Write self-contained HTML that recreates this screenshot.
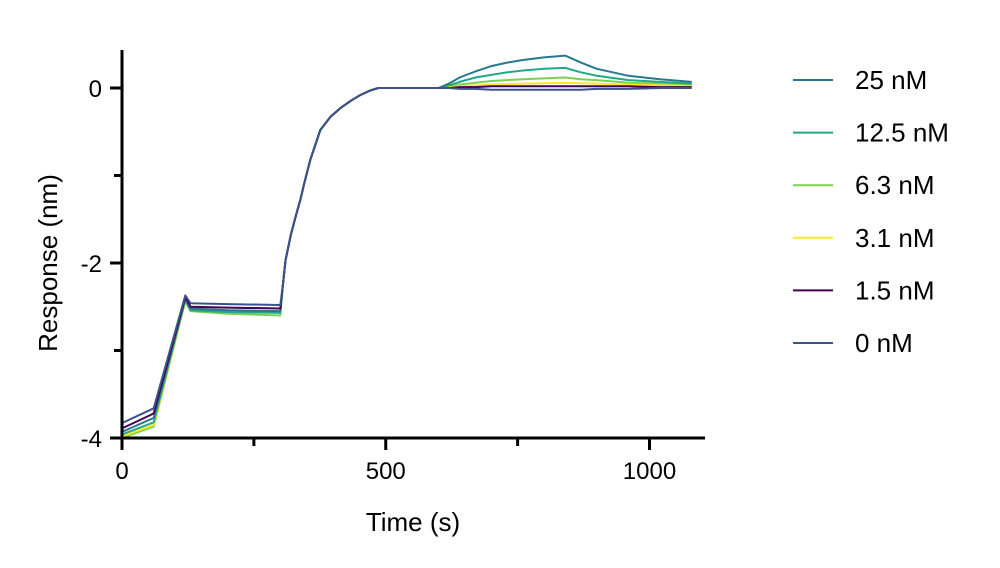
<!DOCTYPE html>
<html><head><meta charset="utf-8"><style>
body{margin:0;background:#fff;}
svg{display:block;font-family:"Liberation Sans",Arial,sans-serif;}
</style></head><body>
<svg id="chart" width="1000" height="568" viewBox="0 0 1000 568">
<g id="plot"></g>
<g id="axes"></g>
<g id="legend"></g>
<text x="413" y="531" font-size="26" text-anchor="middle">Time (s)</text>
<text x="0" y="0" font-size="26" text-anchor="middle" transform="translate(57,263) rotate(-90)">Response (nm)</text>
</svg>
<script>
const times=[0,60,120,130,200,300,305,310,320,330,338,345,357,376,395,414,435,452,470,486,600,620,640,670,700,730,760,800,840,870,900,960,1020,1080];
const seriesNames=["6.3 nM","3.1 nM","12.5 nM","25 nM","1.5 nM","0 nM"];
const s63=[-4.0,-3.87,-2.44,-2.55,-2.58,-2.6,-2.25,-1.97,-1.68,-1.45,-1.28,-1.1,-0.82,-0.48,-0.33,-0.23,-0.14,-0.08,-0.03,0,0,0.015,0.04,0.06,0.08,0.09,0.1,0.11,0.12,0.1,0.09,0.06,0.05,0.04];
const s31=[-3.98,-3.85,-2.43,-2.53,-2.55,-2.56,-2.25,-1.97,-1.68,-1.45,-1.28,-1.1,-0.82,-0.48,-0.33,-0.23,-0.14,-0.08,-0.03,0,0,0.01,0.02,0.03,0.04,0.045,0.05,0.055,0.06,0.055,0.05,0.04,0.03,0.02];
const s125=[-3.96,-3.82,-2.42,-2.54,-2.56,-2.57,-2.25,-1.97,-1.68,-1.45,-1.28,-1.1,-0.82,-0.48,-0.33,-0.23,-0.14,-0.08,-0.03,0,0,0.03,0.07,0.12,0.15,0.18,0.2,0.22,0.23,0.18,0.14,0.09,0.07,0.05];
const s25=[-3.93,-3.77,-2.41,-2.52,-2.54,-2.55,-2.25,-1.97,-1.68,-1.45,-1.28,-1.1,-0.82,-0.48,-0.33,-0.23,-0.14,-0.08,-0.03,0,0,0.05,0.12,0.19,0.25,0.29,0.32,0.35,0.37,0.29,0.22,0.14,0.1,0.07];
const s15=[-3.89,-3.72,-2.39,-2.5,-2.51,-2.52,-2.25,-1.97,-1.68,-1.45,-1.28,-1.1,-0.82,-0.48,-0.33,-0.23,-0.14,-0.08,-0.03,0,0,0,0.01,0.01,0.02,0.02,0.02,0.02,0.02,0.02,0.02,0.02,0.01,0.01];
const s0=[-3.83,-3.66,-2.37,-2.46,-2.47,-2.48,-2.25,-1.97,-1.68,-1.45,-1.28,-1.1,-0.82,-0.48,-0.33,-0.23,-0.14,-0.08,-0.03,0,0,0,-0.01,-0.01,-0.02,-0.02,-0.02,-0.02,-0.02,-0.02,-0.01,-0.01,0,0];
const seriesValues=[s63,s31,s125,s25,s15,s0];
const colors=["#7ad151","#fde725","#22a884","#2a788e","#440154","#3b528b"];
const legendOrder=["25 nM","12.5 nM","6.3 nM","3.1 nM","1.5 nM","0 nM"];
const xTicks=[0,250,500,750,1000];
const xTickLabels=["0","","500","","1000"];
const yTicks=[0,-1,-2,-3,-4];
const yTickLabels=["0","","-2","","-4"];
const NS="http://www.w3.org/2000/svg";
const xs=t=>122+t*0.5275;
const ys=v=>88-v*87.5;
function mk(tag,attrs,parent){const e=document.createElementNS(NS,tag);for(const k in attrs)e.setAttribute(k,attrs[k]);parent.appendChild(e);return e;}
const plot=document.getElementById('plot'),axes=document.getElementById('axes'),legend=document.getElementById('legend');
seriesValues.forEach((vals,i)=>{
  const d=vals.map((v,j)=>(j?'L':'M')+xs(times[j]).toFixed(1)+','+ys(v).toFixed(1)).join('');
  const p=mk('path',{d:d,fill:'none',stroke:colors[i],'stroke-width':2,'stroke-linejoin':'round'},plot);
  
  
});
const ya=mk('line',{x1:122,y1:50,x2:122,y2:439.5,stroke:'#000','stroke-width':3},axes);


const xa=mk('line',{x1:120.5,y1:438,x2:705,y2:438,stroke:'#000','stroke-width':3},axes);


yTicks.forEach((v,i)=>{
  const major=yTickLabels[i]!=="";
  const t=mk('line',{x1:major?110:114,y1:ys(v),x2:122,y2:ys(v),stroke:'#000','stroke-width':3},axes);
  
  
  if(major){const l=mk('text',{x:102,y:ys(v)+9,'font-size':24,'text-anchor':'end'},axes);l.textContent=yTickLabels[i];
  
  }
});
xTicks.forEach((v,i)=>{
  const major=xTickLabels[i]!=="";
  const t=mk('line',{x1:xs(v),y1:438,x2:xs(v),y2:major?450:446,stroke:'#000','stroke-width':3},axes);
  
  
  if(major){const l=mk('text',{x:xs(v),y:479,'font-size':24,'text-anchor':'middle'},axes);l.textContent=xTickLabels[i];
  
  }
});
legendOrder.forEach((n,i)=>{
  const idx=seriesNames.indexOf(n);const y=80+i*52.6;
  const g=mk('g',{},legend);
  
  
  mk('line',{x1:793,y1:y,x2:833,y2:y,stroke:colors[idx],'stroke-width':2},g);
  const t=mk('text',{x:855,y:y+9,'font-size':26},g);t.textContent=n;
});
</script>
</body></html>
